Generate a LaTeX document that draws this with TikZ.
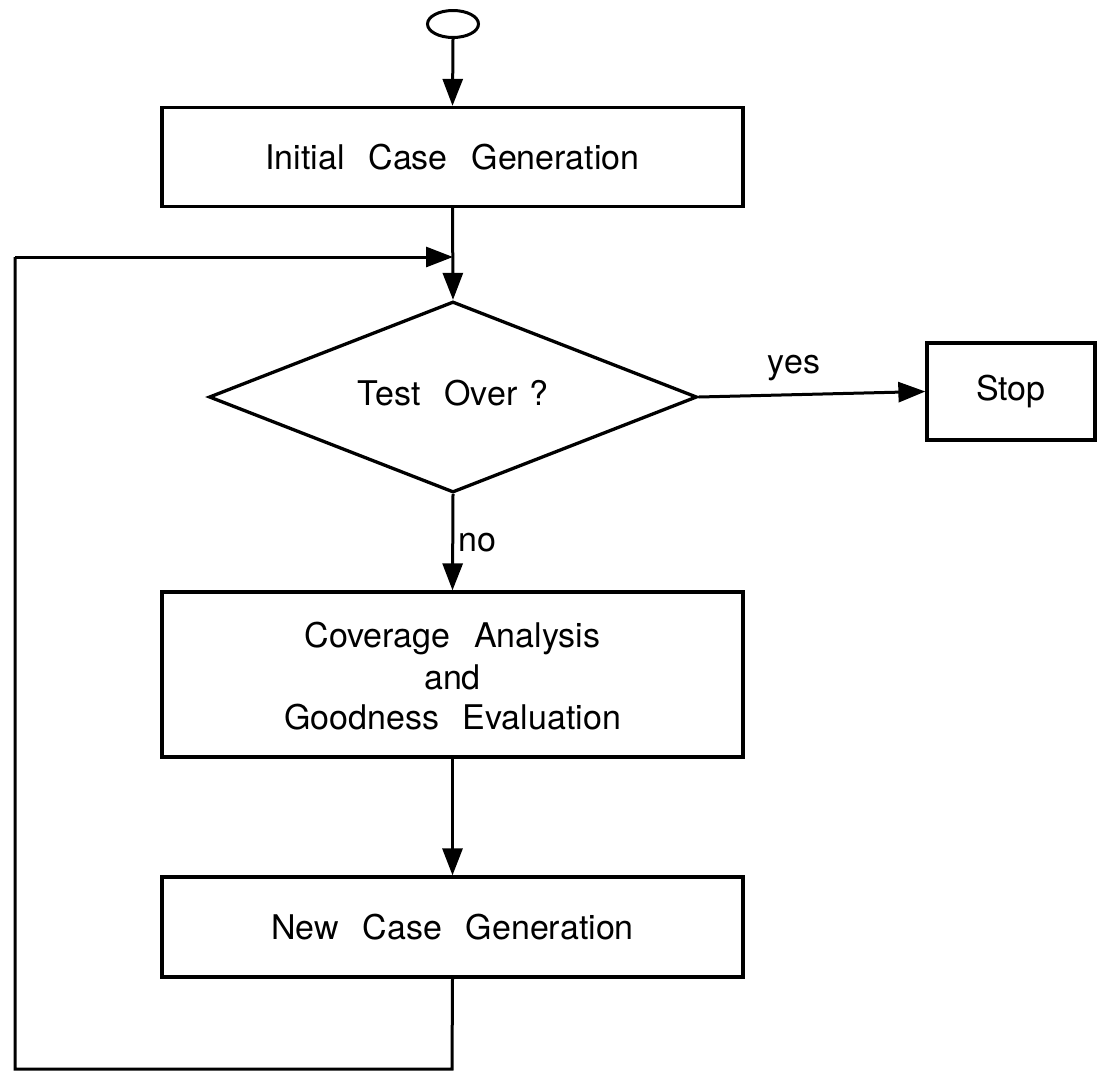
\documentclass[tikz,border=0pt]{standalone}
\usepackage{fontspec}
\setmainfont{TeX Gyre Heros}
\usetikzlibrary{shapes.geometric,arrows.meta}
\begin{document}
\begin{tikzpicture}[x=1pt,y=-1pt,
  every node/.style={font=\fontsize{34}{40}\selectfont},
  wide/.style={execute at begin node={\spaceskip=0.7em plus 0.1em\relax}},
  procbox/.style={draw,line width=3.3pt,inner sep=0pt,minimum width=581pt,minimum height=99pt,align=center,wide},
  conn/.style={line width=3pt},
  arr/.style={conn,-{Triangle[length=27pt,width=20pt]}},
  lbl/.style={inner sep=0pt,wide}]
\useasboundingbox (0,0) rectangle (1102,1074);
\node[draw,ellipse,line width=3pt,inner sep=0pt,minimum width=51pt,minimum height=27pt] (start) at (453,24) {};
\node[procbox] (init) at (452.5,157) {Initial Case Generation};
\node[draw,diamond,line width=3.3pt,inner sep=0pt,minimum width=488pt,minimum height=191pt] (test) at (453,397) {};
\node[lbl] (testtxt) at (453,393) {Test Over\hspace{0.35em}?};
\node[draw,line width=3.3pt,inner sep=0pt,minimum width=168pt,minimum height=97pt] (stop) at (1011,391.5) {Stop};
\node[procbox,minimum height=165pt] (cov) at (452.5,674.5) {};
\node[lbl] (cov1) at (452.5,638) {Coverage Analysis};
\node[lbl] (cov2) at (452.5,677) {and};
\node[lbl] (cov3) at (452.5,717) {Goodness Evaluation};
\node[procbox,minimum height=100pt] (newc) at (452.5,927) {New Case Generation};
\coordinate (join) at (453,257);
\coordinate (c1) at (452,1069);
\coordinate (c2) at (15,1069);
\coordinate (c3) at (15,257);
\draw[arr] (start.south) -- (init.north);
\draw[arr] (init.south) -- (test.north);
\draw[arr] (test.east) -- (stop.west);
\node[lbl] (yes) at (794,368) {yes};
\draw[arr] (test.south) -- node[lbl,right=4pt,pos=0.5] (no) {no} (cov.north);
\draw[arr] (cov.south) -- (newc.north);
\draw[conn] (newc.south) -- (c1) -- (c2) -- (c3);
\draw[arr] (c3) -- (join);
\end{tikzpicture}
\end{document}
